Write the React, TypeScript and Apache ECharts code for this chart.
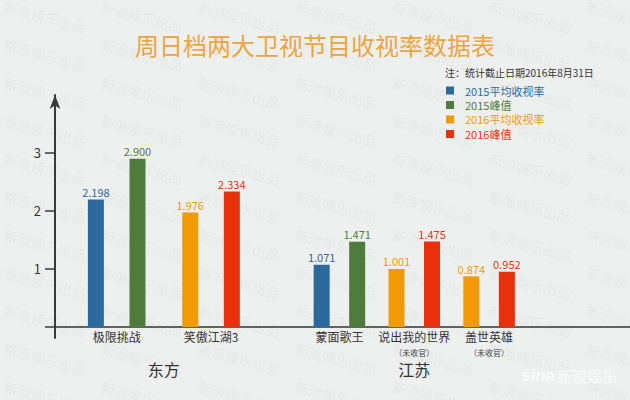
import React, { useEffect, useRef } from 'react';
import * as echarts from 'echarts';

const eastPrograms = ['极限挑战', '笑傲江湖3'];
const jiangsuPrograms = ['蒙面歌王', '说出我的世界', '盖世英雄'];
const jiangsuNotes = ['', '未收官', '未收官'];
const groupNames = ['东方', '江苏'];
const seriesNames = ['2015平均收视率', '2015峰值', '2016平均收视率', '2016峰值'];
const seriesColors = ['#2b6a9c', '#4e7c3c', '#f09a06', '#e8300c'];

const eastAvg2015 = [2.198, null];
const eastPeak2015 = [2.9, null];
const eastAvg2016 = [null, 1.976];
const eastPeak2016 = [null, 2.334];

const jsAvg2015 = [1.071, null, null];
const jsPeak2015 = [1.471, null, null];
const jsAvg2016 = [null, 1.001, 0.874];
const jsPeak2016 = [null, 1.475, 0.952];

const yTickValues = [0, 1, 2, 3];
const yLabelValues = [1, 2, 3];

const FONT = '"Noto Sans CJK SC", "Noto Sans", sans-serif';

function makeWatermark(): HTMLCanvasElement {
  const W = 97;
  const H = 38;
  const c = document.createElement('canvas');
  c.width = W;
  c.height = H;
  const ctx = c.getContext('2d');
  if (ctx) {
    ctx.fillStyle = '#eef0f0';
    ctx.fillRect(0, 0, W, H);
    ctx.font = '14px "Noto Sans CJK SC"';
    ctx.fillStyle = 'rgba(0,0,0,0.035)';
    for (const dx of [-W, 0, W]) {
      for (const dy of [-H, 0, H]) {
        ctx.save();
        ctx.translate(3 + dx, 12 + dy);
        ctx.rotate(0.26);
        ctx.fillText('新浪娱乐出品', 0, 0);
        ctx.restore();
      }
    }
  }
  return c;
}

export default function App() {
  const ref = useRef<HTMLDivElement>(null);

  useEffect(() => {
    if (!ref.current) return;
    const chart = echarts.init(ref.current, undefined, { renderer: 'svg' });

    const yMin = -0.19;
    const yMax = 4;
    const gridTop = 95;
    const gridBottom = 62;

    const labelFmt = (p: any) =>
      p.value == null || isNaN(Number(p.value)) ? '' : Number(p.value).toFixed(3);

    const mkSeries = (
      name: string,
      idx: number,
      data: (number | null)[],
      stack: string,
      axisIdx: number,
      gap: string
    ) => ({
      type: 'bar',
      name,
      data,
      stack,
      xAxisIndex: axisIdx,
      yAxisIndex: axisIdx,
      barWidth: 16,
      barGap: gap,
      z: 3,
      itemStyle: { color: seriesColors[idx] },
      label: {
        show: true,
        position: 'top',
        distance: 2,
        fontSize: 11,
        color: seriesColors[idx],
        fontFamily: FONT,
        formatter: labelFmt,
      },
    });

    const hiddenY = (gridIndex: number) => ({
      type: 'value',
      gridIndex,
      min: yMin,
      max: yMax,
      show: false,
      splitLine: { show: false },
    });

    const catAxis = (gridIndex: number, data: string[], name: string) => ({
      type: 'category',
      gridIndex,
      data,
      name,
      position: 'bottom',
      offset: -11,
      nameLocation: 'middle',
      nameGap: 33.5,
      nameMoveOverlap: false,
      nameTextStyle: { fontSize: 16, color: '#333', fontFamily: FONT },
      axisLine: { show: false },
      axisTick: { show: false },
      splitLine: { show: false },
      axisLabel: {
        interval: 0,
        margin: 3,
        fontSize: 12,
        color: '#333',
        fontFamily: FONT,
      },
    });

    const noteAxis = (gridIndex: number, notes: string[]) => ({
      type: 'category',
      gridIndex,
      data: notes,
      position: 'bottom',
      offset: -11,
      axisLine: { show: false },
      axisTick: { show: false },
      splitLine: { show: false },
      axisLabel: {
        interval: 0,
        margin: 21,
        fontSize: 8,
        color: '#444',
        fontFamily: FONT,
        formatter: (v: string) => (v ? `（${v}）` : ''),
      },
    });

    const option: any = {
      animation: false,
      backgroundColor: '#eef0f0',
      textStyle: { fontFamily: FONT },
      title: [
        {
          text: '周日档两大卫视节目收视率数据表',
          left: 'center',
          top: 27,
          textStyle: { fontSize: 24, fontWeight: 'normal', color: '#eea43c', fontFamily: FONT },
        },
        {
          text: '注：统计截止日期2016年8月31日',
          left: 440,
          top: 62,
          textStyle: { fontSize: 10, fontWeight: 'normal', color: '#333', fontFamily: FONT },
        },
      ],
      legend: {
        orient: 'vertical',
        left: 441,
        top: 80,
        icon: 'rect',
        itemWidth: 8,
        itemHeight: 8,
        itemGap: 3.5,
        data: seriesNames.map((n, i) => ({
          name: n,
          textStyle: { color: seriesColors[i] },
        })),
        textStyle: { fontSize: 11, fontFamily: FONT, padding: [0, 0, 0, 6] },
        selectedMode: false,
      },
      graphic: [
        {
          type: 'rect',
          left: 0,
          top: 0,
          z: -10,
          silent: true,
          shape: { width: 630, height: 400 },
          style: { fill: { image: makeWatermark(), repeat: 'repeat' } },
        },
        {
          type: 'text',
          left: 521,
          top: 367,
          z: 10,
          silent: true,
          style: {
            text: '{a|sina}{b|新浪娱乐}',
            fill: '#fff',
            opacity: 0.75,
            rich: {
              a: { fontSize: 17, fontStyle: 'italic', fontWeight: 'bold', fill: '#fff', fontFamily: 'Arial, sans-serif' },
              b: { fontSize: 15, fill: '#fff', fontFamily: FONT, padding: [0, 0, 0, 2] },
            },
          },
        },
      ],
      grid: [
        { left: 55, right: 0, top: gridTop, bottom: gridBottom, outerBoundsMode: 'none' },
        { left: 69.5, width: 188.7, top: gridTop, bottom: gridBottom, outerBoundsMode: 'none' },
        { left: 302, width: 224.5, top: gridTop, bottom: gridBottom, outerBoundsMode: 'none' },
      ],
      xAxis: [
        {
          type: 'value',
          gridIndex: 0,
          min: 0,
          max: 1,
          axisLine: { show: true, onZero: true, lineStyle: { color: '#333', width: 1.5 } },
          axisTick: { show: false },
          axisLabel: { show: false },
          splitLine: { show: false },
        },
        catAxis(1, eastPrograms, groupNames[0]),
        catAxis(2, jiangsuPrograms, groupNames[1]),
        noteAxis(2, jiangsuNotes),
      ],
      yAxis: [
        {
          type: 'value',
          gridIndex: 0,
          min: yMin,
          max: yMax,
          axisLine: {
            show: true,
            symbol: ['none', 'arrow'],
            symbolSize: [8, 14],
            lineStyle: { color: '#3a3a3a', width: 2 },
          },
          axisTick: {
            show: true,
            length: 10,
            customValues: yTickValues,
            lineStyle: { color: '#3a3a3a', width: 1.5 },
          },
          axisLabel: {
            customValues: yLabelValues,
            margin: 14,
            fontSize: 13,
            color: '#333',
            fontFamily: FONT,
          },
          splitLine: { show: false },
        },
        hiddenY(1),
        hiddenY(2),
      ],
      series: [
        mkSeries(seriesNames[0], 0, eastAvg2015, 'avgE', 1, '160%'),
        mkSeries(seriesNames[1], 1, eastPeak2015, 'peakE', 1, '160%'),
        mkSeries(seriesNames[2], 2, eastAvg2016, 'avgE', 1, '160%'),
        mkSeries(seriesNames[3], 3, eastPeak2016, 'peakE', 1, '160%'),
        mkSeries(seriesNames[0], 0, jsAvg2015, 'avgJ', 2, '122%'),
        mkSeries(seriesNames[1], 1, jsPeak2015, 'peakJ', 2, '122%'),
        mkSeries(seriesNames[2], 2, jsAvg2016, 'avgJ', 2, '122%'),
        mkSeries(seriesNames[3], 3, jsPeak2016, 'peakJ', 2, '122%'),
      ],
    };

    chart.setOption(option);
    return () => {
      chart.dispose();
    };
  }, []);

  return (
    <div
      ref={ref}
      style={{ position: 'fixed', left: 0, top: 0, width: 630, height: 400 }}
    />
  );
}
